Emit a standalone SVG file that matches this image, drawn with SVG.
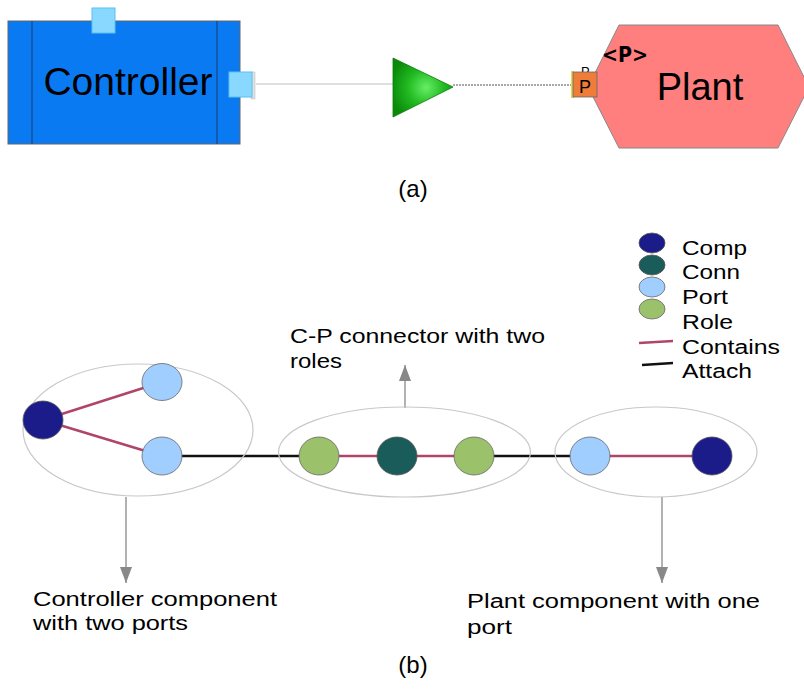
<svg xmlns="http://www.w3.org/2000/svg" width="804" height="690" viewBox="0 0 804 690">
<style>
text{font-family:"Liberation Sans",Arial,sans-serif;fill:#000}
.lbl{font-size:20px}
.ell{fill:none;stroke:#c8c8c8;stroke-width:1.2}
.comp{fill:#1b1b8a;stroke:#555;stroke-width:0.8}
.conn{fill:#1a5c5a;stroke:#555;stroke-width:0.8}
.port{fill:#a0cfff;stroke:#666;stroke-width:0.8}
.role{fill:#9bc26b;stroke:#666;stroke-width:0.8}
.contains{stroke:#b0456a;stroke-width:2.5;fill:none}
.attach{stroke:#111;stroke-width:2.5;fill:none}
.pointer{stroke:#999;stroke-width:1.5;fill:none}
.psq{fill:#88d8ff;stroke:#5bc0f0;stroke-width:1}
</style>
<defs>
<marker id="ah" viewBox="0 0 16 12" refX="16" refY="6" markerWidth="16" markerHeight="12" markerUnits="userSpaceOnUse" orient="auto">
<path d="M0,0 L16,6 L0,12 Z" fill="#888"/>
</marker>
<radialGradient id="tri" cx="0.55" cy="0.5" r="0.6">
<stop offset="0" stop-color="#66ee66"/>
<stop offset="0.5" stop-color="#22bb22"/>
<stop offset="1" stop-color="#0a8a0a"/>
</radialGradient>
</defs>
<rect width="804" height="690" fill="#fff"/>

<!-- (a) -->
<g id="connectors-a">
<line x1="256" y1="84" x2="394" y2="84" stroke="#c0c0c0" stroke-width="1.2"/>
<line x1="453" y1="85" x2="572" y2="85" stroke="#555" stroke-width="1" stroke-dasharray="2,1"/>
</g>
<g id="controller">
<rect x="8" y="21" width="232" height="123" fill="#0a7af2" stroke="#666" stroke-width="1"/>
<line x1="32" y1="21" x2="32" y2="144" stroke="#1a3a6a" stroke-width="1"/>
<line x1="217" y1="21" x2="217" y2="144" stroke="#1a3a6a" stroke-width="1"/>
<text x="128" y="95" font-size="39" text-anchor="middle">Controller</text>
<rect x="92" y="8" width="23" height="25" class="psq"/>
<rect x="251" y="72" width="4" height="27" fill="#e0e0e0" stroke="#bbb" stroke-width="0.5"/>
<rect x="229" y="72" width="23" height="25" class="psq"/>
</g>
<g id="connector-triangle">
<path d="M393,58 L453,87 L393,117 Z" fill="url(#tri)" stroke="#0a7a0a" stroke-width="0.8"/>
</g>
<g id="plant">
<path d="M619,25 L778,25 L809,87 L778,148 L619,148 L588,87 Z" fill="#ff7f7f" stroke="#888" stroke-width="1"/>
<text x="602" y="62" font-weight="bold" font-size="22" textLength="46" lengthAdjust="spacingAndGlyphs" style="font-family:'DejaVu Sans Condensed','DejaVu Sans',sans-serif">&lt;P&gt;</text>
<text x="700" y="100" font-size="38" text-anchor="middle">Plant</text>
<text x="581" y="76" font-size="13">P</text>
<rect x="571" y="71" width="3" height="27" fill="#dede55"/>
<rect x="573" y="72" width="24" height="25" fill="#f07c3a" stroke="#666" stroke-width="0.8"/>
<text x="585" y="93" font-size="18" text-anchor="middle">P</text>
</g>
<text x="413" y="197" font-size="24" text-anchor="middle">(a)</text>

<!-- (b) -->
<g id="connectors">
<line x1="43" y1="420" x2="162" y2="382" class="contains"/>
<line x1="43" y1="420" x2="162" y2="456" class="contains"/>
<line x1="162" y1="456" x2="319" y2="456" class="attach"/>
<line x1="319" y1="456" x2="474" y2="456" class="contains"/>
<line x1="474" y1="456" x2="590" y2="456" class="attach"/>
<line x1="590" y1="456" x2="712" y2="456" class="contains"/>
<line x1="405" y1="408" x2="405" y2="365" class="pointer" marker-end="url(#ah)"/>
<line x1="126" y1="497" x2="126" y2="583" class="pointer" marker-end="url(#ah)"/>
<line x1="662" y1="497" x2="662" y2="583" class="pointer" marker-end="url(#ah)"/>
</g>
<g id="controller-component">
<ellipse cx="138" cy="430" rx="115" ry="66" class="ell"/>
<ellipse cx="43" cy="420" rx="20" ry="19" class="comp"/>
<ellipse cx="162" cy="382" rx="20" ry="18.5" class="port"/>
<ellipse cx="162" cy="456" rx="20" ry="19" class="port"/>
</g>
<g id="cp-connector">
<ellipse cx="404.5" cy="452" rx="126" ry="45" class="ell"/>
<ellipse cx="319" cy="456" rx="20" ry="19" class="role"/>
<ellipse cx="397" cy="456" rx="20" ry="19" class="conn"/>
<ellipse cx="474" cy="456" rx="20" ry="19" class="role"/>
</g>
<g id="plant-component">
<ellipse cx="656" cy="452" rx="101" ry="45" class="ell"/>
<ellipse cx="590" cy="456" rx="20" ry="19" class="port"/>
<ellipse cx="712" cy="456" rx="20" ry="19" class="comp"/>
</g>
<g id="legend">
<ellipse cx="652" cy="243" rx="13" ry="10" class="comp"/>
<ellipse cx="652" cy="265" rx="13" ry="10" class="conn"/>
<ellipse cx="652" cy="287" rx="13" ry="10" class="port"/>
<ellipse cx="652" cy="309" rx="13" ry="10" class="role"/>
<line x1="639" y1="343" x2="673" y2="341" class="contains"/>
<line x1="642" y1="365" x2="673" y2="363" class="attach"/>
<text class="lbl" x="682" y="255" textLength="65" lengthAdjust="spacingAndGlyphs">Comp</text>
<text class="lbl" x="682" y="279" textLength="58" lengthAdjust="spacingAndGlyphs">Conn</text>
<text class="lbl" x="682" y="304" textLength="46" lengthAdjust="spacingAndGlyphs">Port</text>
<text class="lbl" x="682" y="329" textLength="51" lengthAdjust="spacingAndGlyphs">Role</text>
<text class="lbl" x="682" y="354" textLength="98" lengthAdjust="spacingAndGlyphs">Contains</text>
<text class="lbl" x="682" y="378" textLength="70" lengthAdjust="spacingAndGlyphs">Attach</text>
</g>
<g id="annotations">
<text class="lbl" x="290" y="343" textLength="255" lengthAdjust="spacingAndGlyphs">C-P connector with two</text>
<text class="lbl" x="290" y="368" textLength="52" lengthAdjust="spacingAndGlyphs">roles</text>
<text class="lbl" x="33" y="606" textLength="244" lengthAdjust="spacingAndGlyphs">Controller component</text>
<text class="lbl" x="33" y="630" textLength="155" lengthAdjust="spacingAndGlyphs">with two ports</text>
<text class="lbl" x="467" y="608" textLength="293" lengthAdjust="spacingAndGlyphs">Plant component with one</text>
<text class="lbl" x="467" y="634" textLength="45" lengthAdjust="spacingAndGlyphs">port</text>
<text x="413" y="673" font-size="24" text-anchor="middle">(b)</text>
</g>
</svg>
